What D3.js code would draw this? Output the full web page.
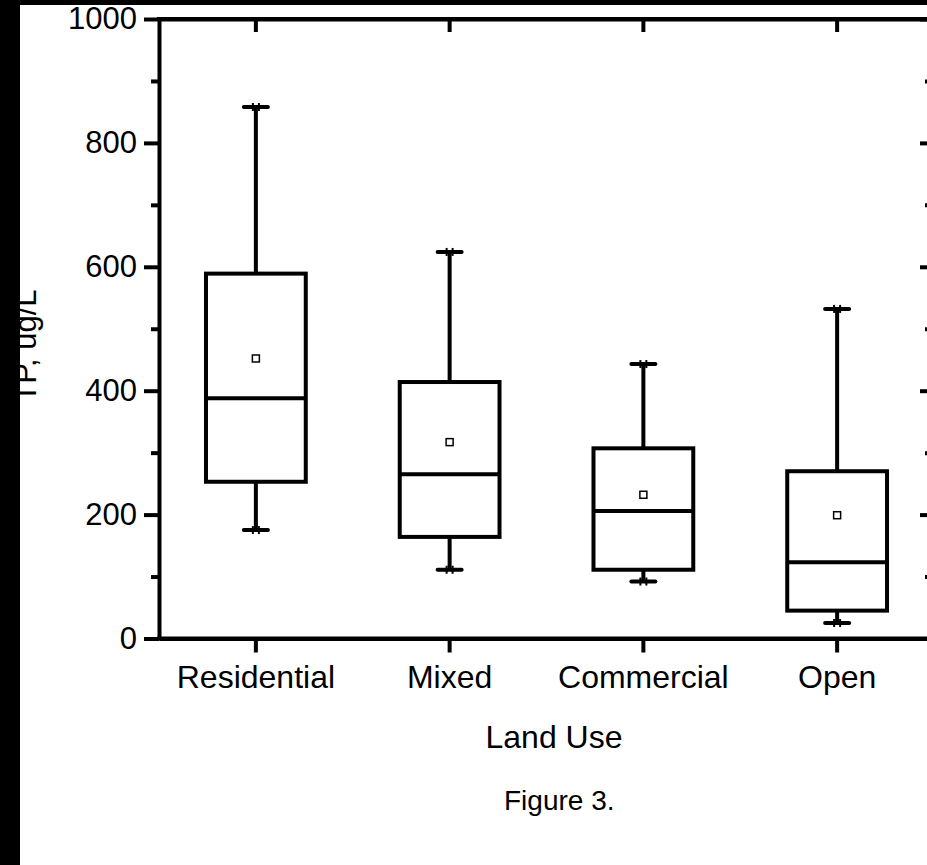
<!DOCTYPE html>
<html>
<head>
<meta charset="utf-8">
<script src="https://cdn.jsdelivr.net/npm/d3@7"></script>
<style>
  html, body { margin: 0; padding: 0; background: #fff; }
  svg { display: block; }
  text { font-family: "Liberation Sans", Arial, sans-serif; fill: #000; }
</style>
</head>
<body>
<script>
// ---- data ----
const categories  = ["Residential", "Mixed", "Commercial", "Open"];
const whiskerLow  = [175, 111, 92, 25];
const q1          = [253, 164, 111, 45];
const median      = [388, 265, 206, 123];
const q3          = [589, 414, 307, 270];
const whiskerHigh = [858, 624, 443, 532];
const mean        = [452, 317, 232, 199];
const majorTicks  = [0, 200, 400, 600, 800, 1000];
const minorTicks  = [100, 300, 500, 700, 900];
const yTitle = "TP, ug/L";
const xTitle = "Land Use";
const caption = "Figure 3.";

(function () {
const W = 927, H = 865;
const pLeft = 159, pRight = 934, pTop = 19, pBottom = 638.5;

const svg = d3.select("body").append("svg")
  .attr("width", W).attr("height", H);

const x = d3.scaleBand().domain(categories).range([pLeft, pRight]).padding(0);
const y = d3.scaleLinear().domain([0, 1000]).range([pBottom, pTop]);

const axisStroke = 4;
function styleAxis(g) {
  g.select(".domain").attr("stroke", "#000").attr("stroke-width", axisStroke);
  g.selectAll(".tick line").attr("stroke", "#000").attr("stroke-width", axisStroke);
}

// left axis (outward ticks)
const gl = svg.append("g").attr("transform", `translate(${pLeft},0)`)
  .call(d3.axisLeft(y).tickValues(majorTicks).tickFormat(d3.format("d"))
    .tickSize(15).tickSizeOuter(0).tickPadding(7));
styleAxis(gl);
gl.selectAll(".tick text").style("font-size", "31px").attr("fill", "#000");
svg.append("g").attr("transform", `translate(${pLeft},0)`)
  .call(d3.axisLeft(y).tickValues(minorTicks).tickSize(8).tickFormat(""))
  .call(styleAxis).select(".domain").remove();

// right axis (inward ticks, partly cut by the window)
const gr = svg.append("g").attr("transform", `translate(${pRight},0)`)
  .call(d3.axisLeft(y).tickValues(majorTicks).tickSize(14).tickSizeOuter(0).tickFormat(""));
styleAxis(gr);
svg.append("g").attr("transform", `translate(${pRight},0)`)
  .call(d3.axisLeft(y).tickValues(minorTicks).tickSize(9).tickFormat(""))
  .call(styleAxis).select(".domain").remove();

// bottom axis (outward ticks)
const gb = svg.append("g").attr("transform", `translate(0,${pBottom})`)
  .call(d3.axisBottom(x).tickSize(14).tickSizeOuter(0));
styleAxis(gb);
gb.selectAll(".tick text").style("font-size", "32px").attr("fill", "#000")
  .attr("y", 49).attr("dy", null);

// top axis (inward ticks)
const gt = svg.append("g").attr("transform", `translate(0,${pTop})`)
  .call(d3.axisBottom(x).tickSize(13).tickSizeOuter(0).tickFormat(""));
styleAxis(gt);

// frame lines
svg.append("line").attr("x1", pLeft - 2).attr("x2", pRight).attr("y1", pTop).attr("y2", pTop)
  .attr("stroke", "#000").attr("stroke-width", axisStroke);
svg.append("line").attr("x1", pLeft - 2).attr("x2", pRight).attr("y1", pBottom).attr("y2", pBottom)
  .attr("stroke", "#000").attr("stroke-width", axisStroke);

// boxes
const boxW = x.bandwidth() * 0.515;
const capW = 24;
const data = categories.map((c, i) => ({
  c, lo: whiskerLow[i], q1: q1[i], med: median[i], q3: q3[i], hi: whiskerHigh[i], mean: mean[i]
}));

const g = svg.append("g");
data.forEach(d => {
  const cx = x(d.c) + x.bandwidth() / 2;
  const bg = g.append("g");
  bg.append("line").attr("x1", cx).attr("x2", cx).attr("y1", y(d.q3)).attr("y2", y(d.hi))
    .attr("stroke", "#000").attr("stroke-width", 4);
  bg.append("line").attr("x1", cx).attr("x2", cx).attr("y1", y(d.q1)).attr("y2", y(d.lo))
    .attr("stroke", "#000").attr("stroke-width", 4);
  [d.hi, d.lo].forEach(v => {
    bg.append("line").attr("x1", cx - capW / 2).attr("x2", cx + capW / 2)
      .attr("y1", y(v)).attr("y2", y(v))
      .attr("stroke", "#000").attr("stroke-width", 4).attr("stroke-linecap", "round");
    bg.append("line").attr("x1", cx - 3).attr("x2", cx - 3).attr("y1", y(v) - 4).attr("y2", y(v) + 4)
      .attr("stroke", "#000").attr("stroke-width", 2);
    bg.append("line").attr("x1", cx + 3).attr("x2", cx + 3).attr("y1", y(v) - 4).attr("y2", y(v) + 4)
      .attr("stroke", "#000").attr("stroke-width", 2);
  });
  bg.append("rect").attr("x", cx - boxW / 2).attr("width", boxW)
    .attr("y", y(d.q3)).attr("height", y(d.q1) - y(d.q3))
    .attr("fill", "#fff").attr("stroke", "#000").attr("stroke-width", 4);
  bg.append("line").attr("x1", cx - boxW / 2).attr("x2", cx + boxW / 2)
    .attr("y1", y(d.med)).attr("y2", y(d.med))
    .attr("stroke", "#000").attr("stroke-width", 4);
  bg.append("rect").attr("x", cx - 3.5).attr("y", y(d.mean) - 3.5)
    .attr("width", 7).attr("height", 7)
    .attr("fill", "#fff").attr("stroke", "#000").attr("stroke-width", 1.5);
});

// titles
svg.append("text").attr("x", 554).attr("y", 748).attr("text-anchor", "middle")
  .style("font-size", "32px").text(xTitle);
svg.append("text").attr("transform", "translate(36,346) rotate(-90)")
  .attr("text-anchor", "middle").style("font-size", "31px").text(yTitle);
svg.append("text").attr("x", 504).attr("y", 810)
  .style("font-size", "28px").text(caption);

// black borders of the scanned page
svg.append("rect").attr("x", 0).attr("y", 0).attr("width", 20).attr("height", H).attr("fill", "#000");
svg.append("rect").attr("x", 0).attr("y", 0).attr("width", W).attr("height", 5).attr("fill", "#000");
})();
</script>
</body>
</html>
